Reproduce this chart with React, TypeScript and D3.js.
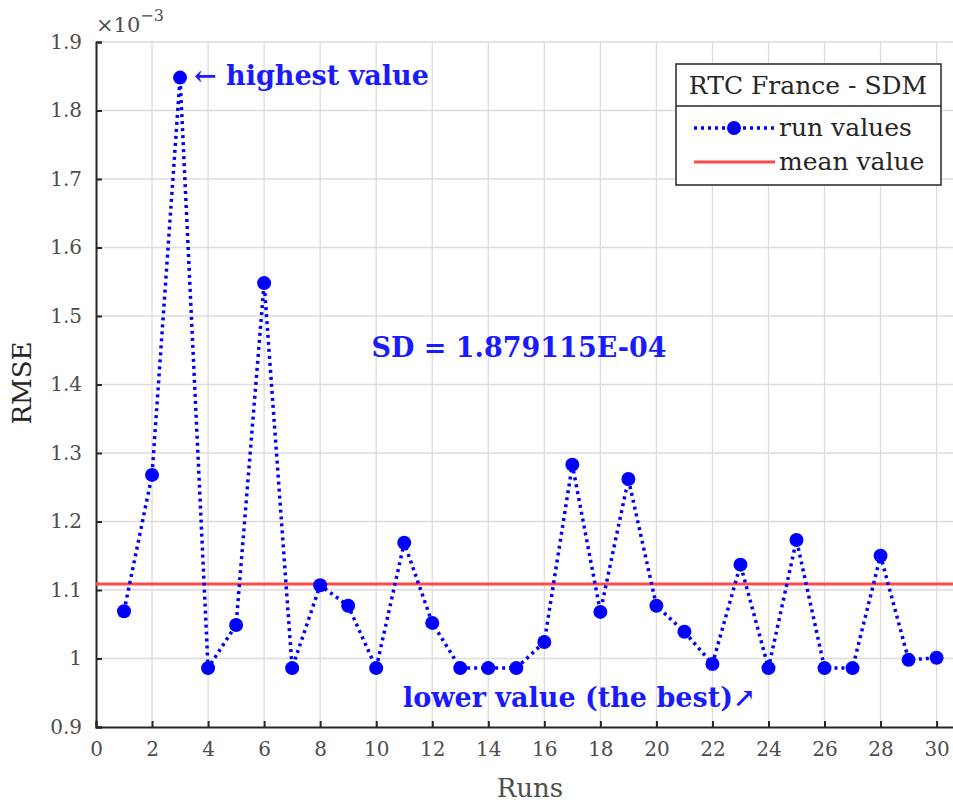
import React, { useRef, useEffect } from 'react';
import * as d3 from 'd3';

// valores (RMSE x 1e-3)
const runs = d3.range(1, 31);
const rmse = [
  1.069, 1.268, 1.848, 0.986, 1.049, 1.548, 0.986, 1.107, 1.077, 0.986,
  1.169, 1.052, 0.986, 0.986, 0.986, 1.024, 1.283, 1.068, 1.262, 1.077,
  1.039, 0.992, 1.137, 0.986, 1.173, 0.986, 0.986, 1.150, 0.998, 1.001,
];
const xTicks = d3.range(0, 31, 2);
const yTicks = [0.9, 1, 1.1, 1.2, 1.3, 1.4, 1.5, 1.6, 1.7, 1.8, 1.9];
const legendTitle = 'RTC France - SDM';
const legendLabels = ['run values', 'mean value'];

const App = () => {
  const svgRef = useRef<SVGSVGElement>(null);

  useEffect(() => {
    const width = 953, height = 803;
    const svg = d3.select(svgRef.current).attr('width', width).attr('height', height);
    svg.selectAll('*').remove();

    const font = '"DejaVu Serif", "Liberation Serif", serif';
    const margin = { left: 96, top: 42, bottom: 76 };
    const x = d3.scaleLinear().domain([0, 31]).range([margin.left, margin.left + 31 * 28.02]);
    const y = d3.scaleLinear().domain([0.9, 1.9]).range([height - margin.bottom, margin.top]);
    const [x0] = x.range();
    const [yb, yt] = y.range();

    svg.append('rect').attr('width', width).attr('height', height).attr('fill', 'white');

    // grade
    svg.append('g').selectAll('line').data(xTicks.slice(1)).enter().append('line')
      .attr('x1', d => x(d)).attr('x2', d => x(d)).attr('y1', yb).attr('y2', yt)
      .attr('stroke', '#dcdcdc').attr('stroke-width', 1.3);
    svg.append('g').selectAll('line').data(yTicks.slice(1)).enter().append('line')
      .attr('x1', x0).attr('x2', width).attr('y1', d => y(d)).attr('y2', d => y(d))
      .attr('stroke', '#dcdcdc').attr('stroke-width', 1.3);

    // eixos
    const xAxis = svg.append('g').attr('transform', `translate(0, ${yb})`)
      .call(d3.axisBottom(x).tickValues(xTicks).tickSize(-6).tickPadding(12).tickFormat(d3.format('d')));
    const yAxis = svg.append('g').attr('transform', `translate(${x0}, 0)`)
      .call(d3.axisLeft(y).tickValues(yTicks).tickSize(-6).tickPadding(14)
        .tickFormat(d => (d === 1 ? '1' : d3.format('.1f')(d as number))));
    [xAxis, yAxis].forEach(a => {
      a.select('.domain').attr('stroke', '#262626').attr('stroke-width', 2);
      a.selectAll('.tick line').attr('stroke', '#262626').attr('stroke-width', 2);
      a.selectAll('.tick text').attr('fill', '#4d4d4d').attr('font-size', 20).attr('font-family', font);
    });
    xAxis.selectAll('.tick text').attr('dy', '0.85em');

    svg.append('text').attr('x', x0).attr('y', 32).attr('font-family', font)
      .attr('font-size', 21).attr('fill', '#4d4d4d')
      .text('×10').append('tspan').attr('dy', -11).attr('font-size', 16).text('−3');

    svg.append('text').attr('x', 530).attr('y', 797).attr('text-anchor', 'middle')
      .attr('font-family', font).attr('font-size', 26).attr('fill', '#4d4d4d').text('Runs');
    svg.append('text').attr('transform', `translate(31, 383) rotate(-90)`)
      .attr('text-anchor', 'middle').attr('font-family', font).attr('font-size', 26)
      .attr('fill', '#262626').text('RMSE');

    // linha da média
    const mean = d3.mean(rmse) as number;
    svg.append('line').attr('x1', x0).attr('x2', width).attr('y1', y(mean)).attr('y2', y(mean))
      .attr('stroke', '#ff4a4a').attr('stroke-width', 3);

    // série
    const line = d3.line<number>().x((d, i) => x(runs[i])).y(d => y(d));
    svg.append('path').datum(rmse).attr('d', line).attr('fill', 'none')
      .attr('stroke', '#0000ff').attr('stroke-width', 3.5).attr('stroke-dasharray', '3 4');
    svg.append('g').selectAll('circle').data(rmse).enter().append('circle')
      .attr('cx', (d, i) => x(runs[i])).attr('cy', d => y(d)).attr('r', 7).attr('fill', '#0000ff');

    // anotações
    const blue = '#1a1aff';
    const note = (tx: number, ty: number, t: string, anchor = 'start') =>
      svg.append('text').attr('x', tx).attr('y', ty).attr('text-anchor', anchor).attr('font-family', font)
        .attr('font-weight', 'bold').attr('font-size', 27).attr('fill', blue).text(t);
    note(194, 85, '← highest value');
    note(519, 357, 'SD = 1.879115E-04', 'middle');
    note(403, 707, 'lower value (the best)↗');

    // legenda
    const lg = svg.append('g').attr('transform', 'translate(676, 64)');
    lg.append('rect').attr('width', 265).attr('height', 121).attr('fill', 'white')
      .attr('stroke', '#262626').attr('stroke-width', 1.5);
    lg.append('line').attr('x1', 0).attr('x2', 265).attr('y1', 42).attr('y2', 42)
      .attr('stroke', '#262626').attr('stroke-width', 1.5);
    lg.append('text').attr('x', 132).attr('y', 30).attr('text-anchor', 'middle').attr('font-family', font)
      .attr('font-size', 25).attr('fill', '#262626').text(legendTitle);
    lg.append('line').attr('x1', 18).attr('x2', 99).attr('y1', 64).attr('y2', 64)
      .attr('stroke', '#0000ff').attr('stroke-width', 3.5).attr('stroke-dasharray', '3 4');
    lg.append('circle').attr('cx', 58).attr('cy', 64).attr('r', 7).attr('fill', '#0000ff');
    lg.append('line').attr('x1', 18).attr('x2', 99).attr('y1', 98).attr('y2', 98)
      .attr('stroke', '#ff4a4a').attr('stroke-width', 3);
    legendLabels.forEach((t, i) => {
      lg.append('text').attr('x', 103).attr('y', 72 + i * 34).attr('font-family', font)
        .attr('font-size', 25).attr('fill', '#262626').text(t);
    });
  }, []);

  return <svg ref={svgRef} style={{ position: 'absolute', left: 0, top: 0 }}></svg>;
};

export default App;
